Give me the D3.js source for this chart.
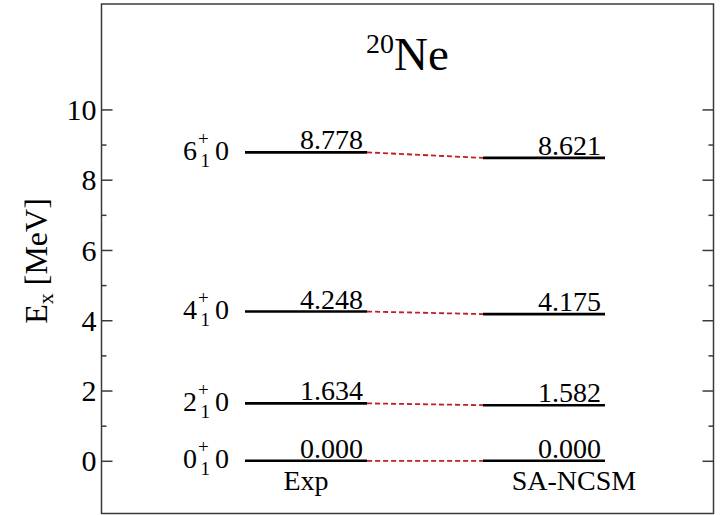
<!DOCTYPE html>
<html>
<head>
<meta charset="utf-8">
<script src="https://cdn.jsdelivr.net/npm/d3@7"></script>
<style>
  html, body { margin: 0; padding: 0; background: #fff; }
  svg { display: block; }
  svg text { font-family: "Liberation Serif", "Times New Roman", serif; }
</style>
</head>
<body>
<svg id="chart" width="721" height="515"></svg>
<script>
// Low-lying positive-parity yrast states of 20Ne (J^pi_n, T)
const spins = [0, 2, 4, 6];
const isospin = [0, 0, 0, 0];
const expEnergy = [0.000, 1.634, 4.248, 8.778];
const ncsmEnergy = [0.000, 1.582, 4.175, 8.621];
const columns = ["Exp", "SA-NCSM"];
const yTicks = [0, 2, 4, 6, 8, 10];
const yMinorTicks = [1, 3, 5, 7, 9];

const SERIF = "Liberation Serif";
const svg = d3.select("#chart");
const frame = { left: 101.5, right: 713.5, top: 4, bottom: 513.5 };

const y = d3.scaleLinear().domain([-1.5, 13]).range([frame.bottom, frame.top]);
const x = d3.scaleBand().domain(columns).range([245, 605]).paddingInner(0.487).paddingOuter(0);

const axisColor = "#3a3a3a";

// Frame
svg.append("rect")
  .attr("x", frame.left).attr("y", frame.top)
  .attr("width", frame.right - frame.left).attr("height", frame.bottom - frame.top)
  .attr("fill", "none").attr("stroke", axisColor).attr("stroke-width", 1.5);

// Left axis with labels (ticks pointing inward)
const leftAxis = svg.append("g").attr("transform", `translate(${frame.left},0)`)
  .call(d3.axisRight(y).tickValues(yTicks).tickSize(11).tickFormat(d3.format("d")))
  .attr("font-family", SERIF).attr("font-size", 30);
leftAxis.select(".domain").remove();
leftAxis.selectAll(".tick line").attr("stroke", axisColor).attr("stroke-width", 1.5);
leftAxis.selectAll(".tick text")
  .attr("x", -5).attr("text-anchor", "end").attr("dy", "0.34em")
  .attr("font-family", SERIF).attr("font-size", 30).attr("fill", "#000");

const leftMinor = svg.append("g").attr("transform", `translate(${frame.left},0)`)
  .call(d3.axisRight(y).tickValues(yMinorTicks).tickSize(5).tickFormat(""));
leftMinor.select(".domain").remove();
leftMinor.selectAll(".tick line").attr("stroke", axisColor).attr("stroke-width", 1.5);

// Right axis ticks (inward, no labels)
const rightAxis = svg.append("g").attr("transform", `translate(${frame.right},0)`)
  .call(d3.axisLeft(y).tickValues(yTicks).tickSize(11).tickFormat(""));
rightAxis.select(".domain").remove();
rightAxis.selectAll(".tick line").attr("stroke", axisColor).attr("stroke-width", 1.5);

const rightMinor = svg.append("g").attr("transform", `translate(${frame.right},0)`)
  .call(d3.axisLeft(y).tickValues(yMinorTicks).tickSize(5).tickFormat(""));
rightMinor.select(".domain").remove();
rightMinor.selectAll(".tick line").attr("stroke", axisColor).attr("stroke-width", 1.5);

// Y axis title: E_x [MeV]
const yTitle = svg.append("text")
  .attr("transform", `translate(47,261) rotate(-90)`)
  .attr("text-anchor", "middle").attr("font-family", SERIF)
  .attr("font-size", 32).attr("fill", "#000");
yTitle.append("tspan").text("E");
yTitle.append("tspan").text("x").attr("font-size", 22).attr("dy", 6);
yTitle.append("tspan").text(" [MeV]").attr("dy", -6);

// Title: 20Ne
const title = svg.append("text")
  .attr("x", (frame.left + frame.right) / 2).attr("y", 70)
  .attr("text-anchor", "middle").attr("font-family", SERIF).attr("fill", "#000");
title.append("tspan").text("20").attr("font-size", 28).attr("dy", -17);
title.append("tspan").text("Ne").attr("font-size", 47).attr("dy", 17);

const series = [expEnergy, ncsmEnergy];

// Dashed connectors between the two spectra
svg.append("g").selectAll("line")
  .data(spins.map((j, i) => i))
  .join("line")
  .attr("x1", x(columns[0]) + x.bandwidth())
  .attr("x2", x(columns[1]))
  .attr("y1", i => y(expEnergy[i]))
  .attr("y2", i => y(ncsmEnergy[i]))
  .attr("stroke", "#c41e1e").attr("stroke-width", 1.8)
  .attr("stroke-dasharray", "5,3");

// Level lines and energy labels
columns.forEach((col, c) => {
  const g = svg.append("g");
  const vals = series[c];
  g.selectAll("line")
    .data(vals)
    .join("line")
    .attr("x1", x(col)).attr("x2", x(col) + x.bandwidth())
    .attr("y1", d => y(d)).attr("y2", d => y(d))
    .attr("stroke", "#000").attr("stroke-width", 2.6);
  g.selectAll("text")
    .data(vals)
    .join("text")
    .attr("x", x(col) + x.bandwidth() - 4)
    .attr("y", d => y(d) - 3)
    .attr("text-anchor", "end").attr("font-family", SERIF)
    .attr("font-size", 28).attr("fill", "#000")
    .text(d => d3.format(".3f")(d));
});

// State labels J^+_1 T next to the experimental levels
spins.forEach((j, i) => {
  const base = y(expEnergy[i]) + 7.5;
  const g = svg.append("g").attr("font-family", SERIF).attr("fill", "#000");
  g.append("text").attr("x", 183).attr("y", base).attr("font-size", 28).text(String(j));
  g.append("text").attr("x", 198).attr("y", base - 15).attr("font-size", 19).text("+");
  g.append("text").attr("x", 200.5).attr("y", base + 7).attr("font-size", 19).text("1");
  g.append("text").attr("x", 215).attr("y", base).attr("font-size", 28).text(String(isospin[i]));
});

// Column labels
const labelOffset = [0, 30];
svg.append("g").selectAll("text")
  .data(columns)
  .join("text")
  .attr("x", (d, i) => x(d) + x.bandwidth() / 2 + labelOffset[i])
  .attr("y", 490)
  .attr("text-anchor", "middle").attr("font-family", SERIF)
  .attr("font-size", 28).attr("fill", "#000")
  .text(d => d);
</script>
</body>
</html>
